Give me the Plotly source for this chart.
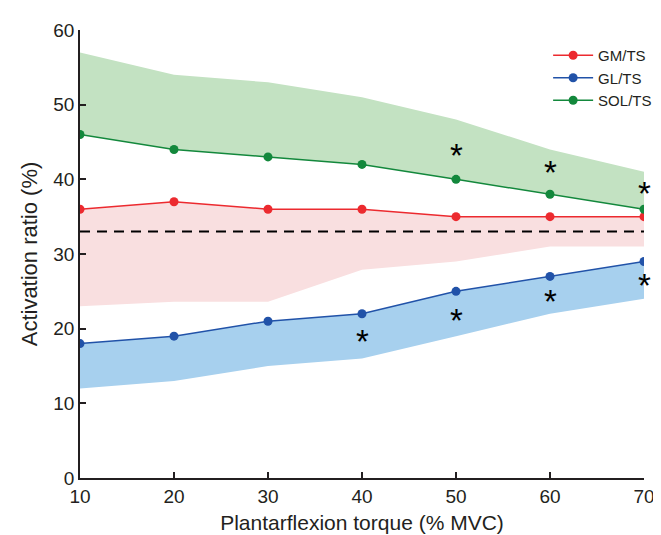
import plotly.graph_objects as go

torque = [10, 20, 30, 40, 50, 60, 70]
gm_ts = [36, 37, 36, 36, 35, 35, 35]
gl_ts = [18, 19, 21, 22, 25, 27, 29]
sol_ts = [46, 44, 43, 42, 40, 38, 36]
sol_upper = [57, 54, 53, 51, 48, 44, 41]
gm_lower = [23, 23.6, 23.6, 27.9, 29, 31, 31]
gl_lower = [12, 13, 15, 16, 19, 22, 24]
reference_level = 33
star_x = [40, 50, 50, 60, 60, 70, 70]
star_y = [18.8, 21.6, 43.7, 24.2, 41.4, 26.3, 38.7]

RED = "#ec2a2f"
BLUE = "#2152a8"
GREEN = "#13883c"
INK = "#231f20"

fig = go.Figure()

def band(lo, hi, color):
    fig.add_trace(go.Scatter(x=torque, y=hi, mode="lines", line=dict(width=0),
                             showlegend=False, hoverinfo="skip"))
    fig.add_trace(go.Scatter(x=torque, y=lo, mode="lines", line=dict(width=0),
                             fill="tonexty", fillcolor=color,
                             showlegend=False, hoverinfo="skip"))

band(sol_ts, sol_upper, "#c3e2c2")
band(gm_lower, gm_ts, "#f9dfe0")
band(gl_lower, gl_ts, "#a7d0ee")

fig.add_trace(go.Scatter(x=[torque[0], torque[-1]], y=[reference_level] * 2, mode="lines",
                         line=dict(color="black", width=2, dash="10px,7px"),
                         showlegend=False, hoverinfo="skip"))

for name, ys, col in [("GM/TS", gm_ts, RED), ("GL/TS", gl_ts, BLUE), ("SOL/TS", sol_ts, GREEN)]:
    fig.add_trace(go.Scatter(x=torque, y=ys, mode="lines+markers", name=name,
                             line=dict(color=col, width=1.5),
                             marker=dict(color=col, size=9)))

for sx, sy in zip(star_x, star_y):
    fig.add_annotation(x=sx, y=sy, text="*", showarrow=False, yshift=-4,
                       font=dict(size=33, color="black", family="Liberation Sans"))

axis_common = dict(showline=True, linecolor=INK, linewidth=1.5, ticks="inside",
                   ticklen=6, tickcolor=INK, tickwidth=1.5, showgrid=False, zeroline=False,
                   tickfont=dict(size=19, color=INK))

fig.update_layout(
    width=661, height=535,
    margin=dict(l=72, r=13, t=20, b=61),
    plot_bgcolor="white", paper_bgcolor="white",
    font=dict(family="Liberation Sans, Arial, sans-serif", color=INK),
    xaxis=dict(range=[10, 70], tickvals=[10, 20, 30, 40, 50, 60, 70],
               title=dict(text="Plantarflexion torque (% MVC)", standoff=10,
                          font=dict(size=21, color=INK)), **axis_common),
    yaxis=dict(range=[0, 60], tickvals=[0, 10, 20, 30, 40, 50, 60],
               title=dict(text="Activation ratio (%)", standoff=10,
                          font=dict(size=22, color=INK)), **axis_common),
    legend=dict(x=0.83, y=0.98, xanchor="left", yanchor="top", bgcolor="rgba(0,0,0,0)",
                font=dict(size=15, color=INK), tracegroupgap=0, itemwidth=40,
                traceorder="normal"),
    showlegend=True,
)

fig.write_html("out.html")
